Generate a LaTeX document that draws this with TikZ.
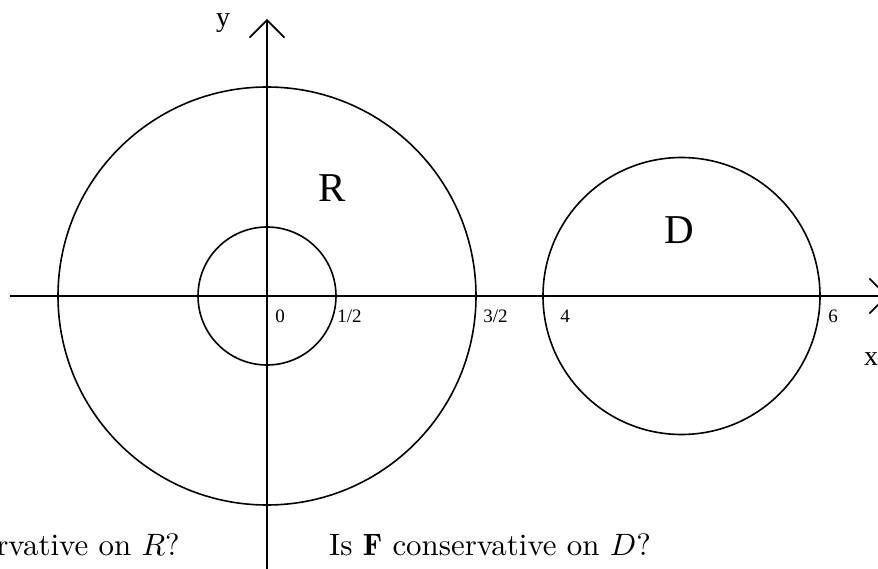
\documentclass[tikz,border=0pt]{standalone}
\usepackage{fontspec}
\newfontfamily\tms{Liberation Serif}
\usetikzlibrary{arrows.meta}
\newcommand{\qtext}[1]{\scalebox{3.09}{\fontsize{10}{12}\selectfont #1}}
\begin{document}
\begin{tikzpicture}[x=1pt,y=-1pt,
  curve/.style={draw=black,line width=1.6pt,circle,inner sep=0pt},
  axis/.style={line width=1.7pt,-{Straight Barb[length=17.5pt,width=35pt,line width=1.6pt]}},
  tick/.style={font=\tms\fontsize{19}{19}\selectfont,anchor=base,inner sep=0pt},
  axlabel/.style={font=\tms\fontsize{28}{28}\selectfont,anchor=base,inner sep=0pt},
  region/.style={font=\tms\fontsize{41}{41}\selectfont,anchor=base,inner sep=0pt},
  question/.style={inner sep=0pt}]
\useasboundingbox (0,0) rectangle (878,569);
\clip (0,0) rectangle (878,569);
% circles
\node[curve,minimum size=418pt] (big) at (267,296) {};
\node[curve,minimum size=138pt] (small) at (267,296) {};
\node[curve,minimum size=277pt] (disk) at (681.5,296) {};
% axes
\coordinate (xs) at (10,296);
\coordinate (xe) at (888,296);
\coordinate (ys) at (267,575);
\coordinate (ye) at (267,19);
\draw[axis] (xs) -- (xe);
\draw[axis] (ys) -- (ye);
% labels
\node[axlabel] (ylab) at (223,27) {y};
\node[axlabel] (xlab) at (871,365) {x};
\node[tick] (t0) at (280,323) {0};
\node[tick] (t1) at (349.5,323) {1/2};
\node[tick] (t2) at (495.5,323) {3/2};
\node[tick] (t3) at (565,323) {4};
\node[tick] (t4) at (833,323) {6};
\node[region] (rlab) at (332.5,202) {R};
\node[region] (dlab) at (679,244) {D};
% questions
\node[question,anchor=base east] (q1) at (180,555) {\qtext{Is $\mathbf{F}$ conservative on $R$?}};
\node[question,anchor=base west] (q2) at (329,555) {\qtext{Is $\mathbf{F}$ conservative on $D$?}};
\end{tikzpicture}
\end{document}
